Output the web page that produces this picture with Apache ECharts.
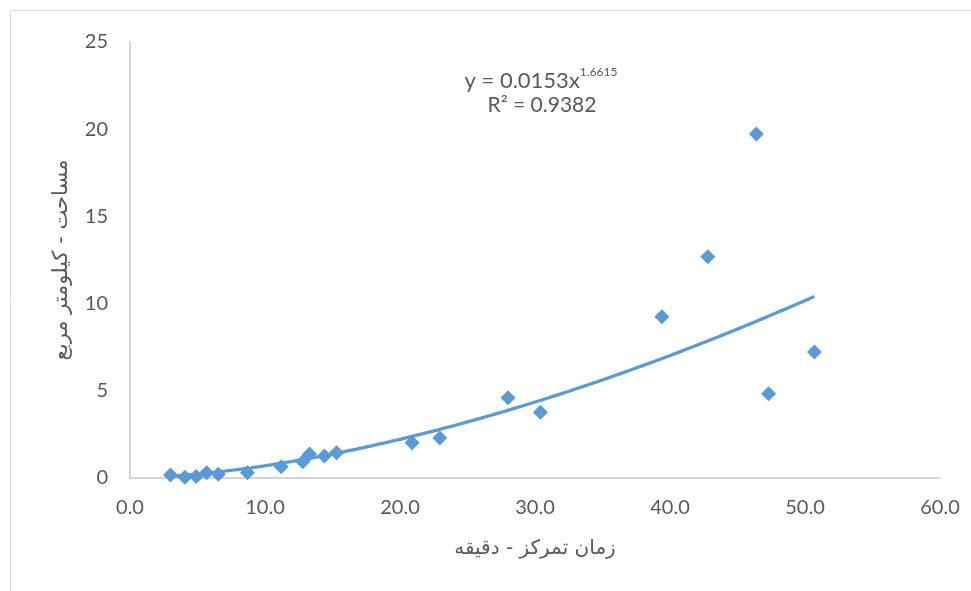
<!DOCTYPE html>
<html>
<head>
<meta charset="utf-8">
<script src="https://cdn.jsdelivr.net/npm/echarts@6/dist/echarts.min.js"></script>
<style>
html,body{margin:0;padding:0;background:#fff;}
#c{width:971px;height:591px;}
</style>
</head>
<body>
<div id="c"></div>
<script>
var xValues = [3.0, 4.07, 4.9, 5.68, 6.54, 8.7, 11.2, 12.8, 13.3, 14.4, 15.3, 20.9, 22.95, 28.0, 30.4, 39.4, 42.8, 46.4, 47.3, 50.7];
var yValues = [0.17, 0.05, 0.08, 0.3, 0.21, 0.3, 0.65, 0.93, 1.38, 1.26, 1.45, 2.02, 2.29, 4.6, 3.77, 9.25, 12.69, 19.72, 4.83, 7.22];
var xTicks = ['0.0', '10.0', '20.0', '30.0', '40.0', '50.0', '60.0'];
var yTicks = ['0', '5', '10', '15', '20', '25'];
var trendCoef = 0.0153;
var trendExp = 1.6615;
var rSquared = '0.9382';
var xTitle = 'زمان تمرکز - دقیقه';
var yTitle = 'مساحت - کیلومتر مربع';

var points = xValues.map(function (x, i) { return [x, yValues[i]]; });
var xMin = Math.min.apply(null, xValues), xMax = Math.max.apply(null, xValues);
var trend = [];
var steps = 80;
for (var i = 0; i <= steps; i++) {
  var x = xMin + (xMax - xMin) * i / steps;
  trend.push([x, trendCoef * Math.pow(x, trendExp)]);
}

var font = 'Lato, "DejaVu Sans", sans-serif';
var arFont = '"DejaVu Sans", sans-serif';
var chart = echarts.init(document.getElementById('c'));
chart.setOption({
  animation: false,
  backgroundColor: '#fff',
  grid: { left: 130, right: 31, top: 42, bottom: 113, containLabel: false },
  xAxis: {
    type: 'value', min: 0, max: 60, interval: 10,
    axisLine: { show: true, lineStyle: { color: '#c8c8c8', width: 1.5 } },
    axisTick: { show: false },
    splitLine: { show: false },
    axisLabel: { color: '#595959', fontSize: 20, fontFamily: font, margin: 20,
      formatter: function (v) { return xTicks[Math.round(v / 10)]; } },
    name: xTitle, nameLocation: 'middle', nameGap: 61,
    nameTextStyle: { color: '#595959', fontSize: 20, fontFamily: arFont }
  },
  yAxis: {
    type: 'value', min: 0, max: 25, interval: 5,
    axisLine: { show: true, lineStyle: { color: '#c8c8c8', width: 1.5 } },
    axisTick: { show: false },
    splitLine: { show: false },
    axisLabel: { color: '#595959', fontSize: 20, fontFamily: font, margin: 22,
      formatter: function (v) { return yTicks[Math.round(v / 5)]; } },
    name: yTitle, nameLocation: 'middle', nameGap: 58, nameRotate: 90,
    nameTextStyle: { color: '#595959', fontSize: 21, fontFamily: arFont }
  },
  graphic: [
    { type: 'rect', shape: { x: 10.5, y: 10.5, width: 1000, height: 700 },
      style: { fill: 'none', stroke: '#d9d9d9', lineWidth: 1 }, silent: true },
    { type: 'text', x: 541, y: 66, silent: true,
      style: { text: '{a|y = ' + trendCoef + 'x}{b|' + trendExp + '}', align: 'center', verticalAlign: 'top',
        rich: {
          a: { fontSize: 22, fontFamily: font, fill: '#595959', lineHeight: 26, verticalAlign: 'bottom' },
          b: { fontSize: 12, fontFamily: font, fill: '#595959', lineHeight: 26, verticalAlign: 'top' }
        } } },
    { type: 'text', x: 542, y: 95, silent: true,
      style: { text: 'R² = ' + rSquared, fontSize: 21, fontFamily: font, fill: '#595959', align: 'center', verticalAlign: 'top' } }
  ],
  series: [
    { type: 'line', data: trend, showSymbol: false, smooth: true, z: 2,
      lineStyle: { color: '#5B9BD5', width: 3.3 }, silent: true },
    { type: 'scatter', data: points, symbol: 'diamond', symbolSize: 15, z: 3,
      itemStyle: { color: '#5B9BD5', opacity: 1 } }
  ]
});
</script>
</body>
</html>
